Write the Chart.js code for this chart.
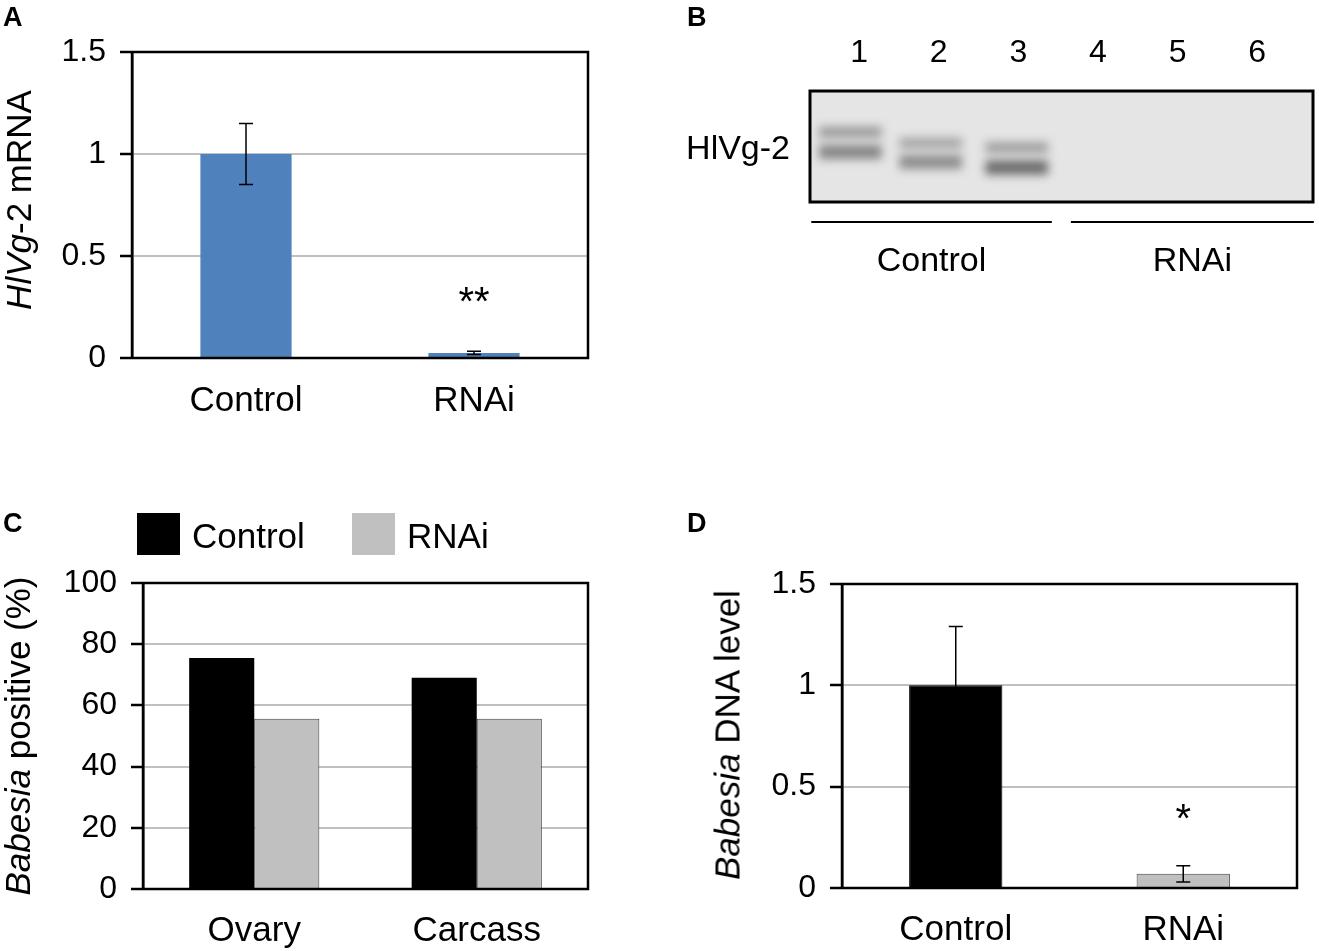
<!DOCTYPE html>
<html>
<head>
<meta charset="utf-8">
<script src="https://cdn.jsdelivr.net/npm/chart.js@4.4.1/dist/chart.umd.min.js"></script>
<style>
  body { margin: 0; background: #fff; font-family: "Liberation Sans", Arial, sans-serif; color: #000; }
  #page { position: relative; width: 1319px; height: 951px; overflow: hidden; }
  canvas { position: absolute; }
  .tag { position: absolute; font-weight: bold; font-size: 27px; line-height: 1; }
  .ytitle { position: absolute; font-size: 35px; line-height: 1; white-space: nowrap;
            transform: translate(-50%, -50%) rotate(-90deg); }
  .key { position: absolute; width: 43px; height: 42px; }
  .keytext { position: absolute; font-size: 35px; line-height: 1; }
</style>
</head>
<body>
<div id="page">
  <canvas id="chartA" width="640" height="450" style="left:0;top:0"></canvas>
  <canvas id="chartB" width="679" height="300" style="left:640px;top:0"></canvas>
  <canvas id="chartC" width="640" height="471" style="left:0;top:480px"></canvas>
  <canvas id="chartD" width="639" height="471" style="left:680px;top:480px"></canvas>

  <div class="tag" style="left:3px;top:4px">A</div>
  <div class="tag" style="left:687px;top:4px">B</div>
  <div class="tag" style="left:3px;top:510px">C</div>
  <div class="tag" style="left:687px;top:510px">D</div>

  <div class="ytitle" style="left:18px;top:200px"><i>HlVg</i>-2 mRNA</div>
  <div class="ytitle" style="left:17px;top:736px"><i>Babesia</i> positive (%)</div>
  <div class="ytitle" style="left:727px;top:735px"><i>Babesia</i> DNA level</div>

  <div class="key" style="left:137px;top:513px;background:#000"></div>
  <div class="keytext" style="left:192px;top:518px">Control</div>
  <div class="key" style="left:352px;top:513px;background:#c0c0c0"></div>
  <div class="keytext" style="left:407px;top:518px">RNAi</div>
</div>

<script>
const FONT = "'Liberation Sans', Arial, sans-serif";

// A: HlVg-2 mRNA level
const mrnaGroups = ["Control", "RNAi"];
const mrnaMeans = [1.0, 0.025];
const mrnaErrors = [0.15, 0.008];
const mrnaMarks = ["", "**"];
const mrnaMarkAt = [null, 0.21];

// B: western blot
const laneNumbers = [1, 2, 3, 4, 5, 6];
const bandLanes = [0.89, 1.9, 2.98, 4, 5, 6];
const upperBand = [37, 47, 51, null, null, null];
const lowerBand = [55, 64, 69, null, null, null];
const upperShade = [0.38, 0.32, 0.36, 0, 0, 0];
const lowerShade = [0.48, 0.44, 0.62, 0, 0, 0];
const blotTarget = "HlVg-2";
const blotGroups = ["Control", "RNAi"];
const blotGroupSpans = [[0.4, 3.42], [3.66, 6.71]];

// C: Babesia positive (%)
const tissues = ["Ovary", "Carcass"];
const positiveControl = [75.5, 69.0];
const positiveRNAi = [55.6, 55.6];

// D: Babesia DNA level
const dnaGroups = ["Control", "RNAi"];
const dnaMeans = [1.0, 0.07];
const dnaErrors = [0.29, 0.04];
const dnaMarks = ["", "*"];
const dnaMarkAt = [null, 0.276];

const framePlugin = {
  id: "frame",
  afterDatasetsDraw(chart) {
    const a = chart.chartArea, ctx = chart.ctx;
    ctx.save();
    ctx.strokeStyle = "#000";
    ctx.lineWidth = 2.5;
    ctx.strokeRect(a.left, a.top, a.right - a.left, a.bottom - a.top);
    ctx.restore();
  }
};

const errorBarPlugin = {
  id: "errorBars",
  afterDatasetsDraw(chart) {
    const ctx = chart.ctx, ys = chart.scales.y;
    chart.data.datasets.forEach((ds, i) => {
      const meta = chart.getDatasetMeta(i);
      meta.data.forEach((bar, j) => {
        ctx.save();
        if (ds.errors && ds.errors[j] != null) {
          const v = ds.data[j], e = ds.errors[j];
          const top = ys.getPixelForValue(v + e), bot = ys.getPixelForValue(v - e);
          ctx.strokeStyle = "#000";
          ctx.lineWidth = 1.5;
          ctx.beginPath();
          ctx.moveTo(bar.x, top); ctx.lineTo(bar.x, bot);
          ctx.moveTo(bar.x - 7, top); ctx.lineTo(bar.x + 7, top);
          ctx.moveTo(bar.x - 7, bot); ctx.lineTo(bar.x + 7, bot);
          ctx.stroke();
        }
        if (ds.marks && ds.marks[j]) {
          ctx.fillStyle = "#000";
          ctx.font = "40px " + FONT;
          ctx.textAlign = "center";
          ctx.textBaseline = "alphabetic";
          ctx.fillText(ds.marks[j], bar.x, ys.getPixelForValue(ds.markAt[j]));
        }
        ctx.restore();
      });
    });
  }
};

function valueAxis(max, step, width) {
  return {
    min: 0, max: max,
    ticks: { stepSize: step, color: "#000", padding: 14, font: { size: 32, family: FONT },
             callback: v => String(v) },
    grid: { color: "#c0c0c0", lineWidth: 2, tickColor: "#000", tickWidth: 2.5, tickLength: 12 },
    border: { color: "#000", width: 2.5 },
    afterFit(s) { s.width = width; }
  };
}

function categoryAxis(height, pad) {
  return {
    grid: { display: false, drawTicks: false },
    border: { display: false },
    ticks: { color: "#000", padding: pad, font: { size: 35, family: FONT } },
    afterFit(s) { s.height = height; }
  };
}

const common = {
  responsive: false,
  animation: false,
  events: []
};

// Panel A
new Chart(document.getElementById("chartA"), {
  type: "bar",
  data: {
    labels: mrnaGroups,
    datasets: [{
      data: mrnaMeans,
      errors: mrnaErrors,
      marks: mrnaMarks,
      markAt: mrnaMarkAt,
      backgroundColor: "#4f81bd",
      barPercentage: 0.4,
      categoryPercentage: 1
    }]
  },
  options: {
    ...common,
    layout: { padding: { top: 52, right: 52, left: 0, bottom: 0 } },
    plugins: { legend: { display: false }, tooltip: { enabled: false } },
    scales: { x: categoryAxis(92, 22), y: valueAxis(1.5, 0.5, 132) }
  },
  plugins: [framePlugin, errorBarPlugin]
});

// Panel B: blot
const blotPlugin = {
  id: "blot",
  beforeDatasetsDraw(chart) {
    const { ctx, chartArea: a } = chart;
    ctx.save();
    ctx.fillStyle = "#e5e5e5";
    ctx.fillRect(a.left, a.top, a.right - a.left, a.bottom - a.top);
    ctx.beginPath();
    ctx.rect(a.left, a.top, a.right - a.left, a.bottom - a.top);
    ctx.clip();
    ctx.filter = "blur(5px)";
  },
  afterDatasetsDraw(chart) {
    const { ctx, chartArea: a, scales } = chart;
    ctx.restore();
    ctx.save();
    ctx.strokeStyle = "#000";
    ctx.lineWidth = 3;
    ctx.strokeRect(a.left, a.top, a.right - a.left, a.bottom - a.top);
    ctx.lineWidth = 2;
    ctx.fillStyle = "#000";
    ctx.font = "34px " + FONT;
    ctx.textAlign = "center";
    ctx.textBaseline = "middle";
    blotGroups.forEach((g, i) => {
      const x1 = scales.x.getPixelForValue(blotGroupSpans[i][0]);
      const x2 = scales.x.getPixelForValue(blotGroupSpans[i][1]);
      ctx.beginPath();
      ctx.moveTo(x1, a.bottom + 20);
      ctx.lineTo(x2, a.bottom + 20);
      ctx.stroke();
      ctx.fillText(g, (x1 + x2) / 2, a.bottom + 60);
    });
    ctx.restore();
  }
};

function bandSet(pos, shade, half) {
  const pts = [], cols = [];
  bandLanes.forEach((x, i) => {
    if (pos[i] == null) return;
    pts.push({ x: x, y: [pos[i] - half, pos[i] + half] });
    cols.push("rgba(30,30,30," + shade[i] + ")");
  });
  return { data: pts, backgroundColor: cols, barThickness: 62, grouped: false };
}

new Chart(document.getElementById("chartB"), {
  type: "bar",
  data: {
    datasets: [bandSet(upperBand, upperShade, 4.5), bandSet(lowerBand, lowerShade, 6)]
  },
  options: {
    ...common,
    layout: { padding: { top: 0, right: 6, left: 0, bottom: 98 } },
    plugins: { legend: { display: false }, tooltip: { enabled: false } },
    scales: {
      x: {
        type: "linear", position: "top", min: 0.384, max: 6.7, offset: false,
        afterBuildTicks(s) { s.ticks = laneNumbers.map(v => ({ value: v })); },
        ticks: { color: "#000", padding: 19, font: { size: 32, family: FONT } },
        grid: { display: false, drawTicks: false },
        border: { display: false },
        afterFit(s) { s.height = 91; }
      },
      y: {
        min: 0, max: 100, reverse: true,
        afterBuildTicks(s) { s.ticks = [{ value: 53 }]; },
        ticks: { callback: () => blotTarget, color: "#000", padding: 20, font: { size: 34, family: FONT } },
        grid: { display: false, drawTicks: false },
        border: { display: false },
        afterFit(s) { s.width = 170; }
      }
    }
  },
  plugins: [blotPlugin]
});

// Panel C
new Chart(document.getElementById("chartC"), {
  type: "bar",
  data: {
    labels: tissues,
    datasets: [
      { label: "Control", data: positiveControl, backgroundColor: "#000",
        barPercentage: 1, categoryPercentage: 0.585 },
      { label: "RNAi", data: positiveRNAi, backgroundColor: "#c0c0c0",
        borderColor: "#404040", borderWidth: 1, borderSkipped: "bottom",
        barPercentage: 1, categoryPercentage: 0.585 }
    ]
  },
  options: {
    ...common,
    layout: { padding: { top: 103, right: 52, left: 0, bottom: 0 } },
    plugins: { legend: { display: false }, tooltip: { enabled: false } },
    scales: { x: categoryAxis(62, 21), y: valueAxis(100, 20, 143) }
  },
  plugins: [framePlugin]
});

// Panel D
new Chart(document.getElementById("chartD"), {
  type: "bar",
  data: {
    labels: dnaGroups,
    datasets: [{
      data: dnaMeans,
      errors: dnaErrors,
      marks: dnaMarks,
      markAt: dnaMarkAt,
      backgroundColor: ["#000", "#c0c0c0"],
      borderColor: ["#000", "#404040"],
      borderWidth: 1,
      borderSkipped: "bottom",
      barPercentage: 0.41,
      categoryPercentage: 1
    }]
  },
  options: {
    ...common,
    layout: { padding: { top: 104, right: 22, left: 0, bottom: 0 } },
    plugins: { legend: { display: false }, tooltip: { enabled: false } },
    scales: { x: categoryAxis(63, 21), y: valueAxis(1.5, 0.5, 162) }
  },
  plugins: [framePlugin, errorBarPlugin]
});
</script>
</body>
</html>
